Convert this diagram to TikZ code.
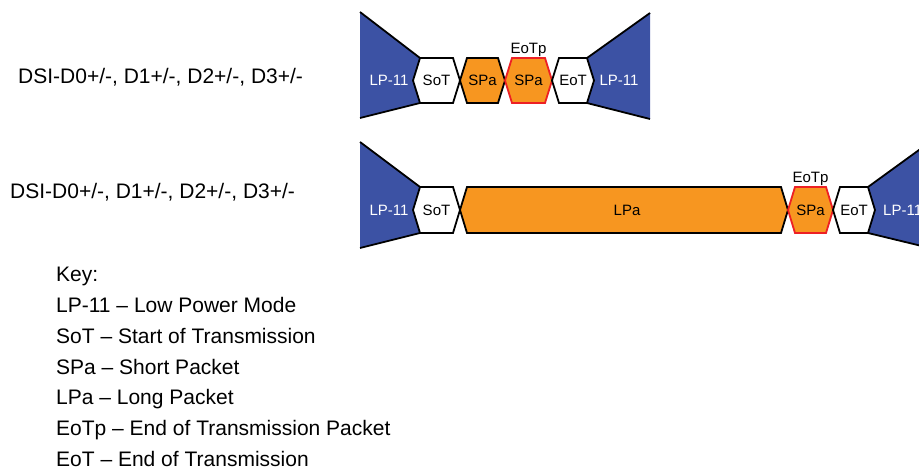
\documentclass[tikz,border=0pt]{standalone}
\usepackage{fontspec}
\setmainfont{Liberation Sans}
\usepackage{tikz}
\usepackage{xcolor}
\usetikzlibrary{positioning}

\begin{document}
\begin{tikzpicture}[x=1pt, y=-1pt,
		cell/.style={line width=1.8pt, draw=BLACK},
		edge/.style={line width=1.8pt, draw=BLACK},
		celltext/.style={font=\fontsize{15}{18}\selectfont, inner sep=0pt},
		keytext/.style={font=\fontsize{21}{25}\selectfont, anchor=base west, inner sep=0pt}]
				\definecolor{WHITE}{RGB}{255, 255, 255}
				\definecolor{BLACK}{RGB}{0, 0, 0}
				\definecolor{BLUE}{RGB}{60, 82, 164}
				\definecolor{ORANGE}{RGB}{247, 150, 32}
				\definecolor{RED}{RGB}{237, 32, 36}
				\useasboundingbox (0,0) rectangle (919,473);
				\clip (0,0) rectangle (919,473);

				% top lane
				\fill[BLUE] (360,12) -- (420,58) -- (413,80.5) -- (420,103) -- (360,118) -- cycle;
				\draw[edge] (360,12) -- (420,58);
				\draw[edge] (360,118) -- (420,103);
				\fill[BLUE] (650,13) -- (587,58) -- (594,80.5) -- (587,103) -- (650,119) -- cycle;
				\draw[edge] (650,13) -- (587,58);
				\draw[edge] (650,119) -- (587,103);
				\draw[cell, fill=WHITE] (413,80.5) -- (420,58) -- (453,58) -- (460,80.5) -- (453,103) -- (420,103) -- cycle;
				\draw[cell, fill=ORANGE] (460,80.5) -- (467,58) -- (498,58) -- (505,80.5) -- (498,103) -- (467,103) -- cycle;
				\draw[cell, draw=RED, fill=ORANGE] (505,80.5) -- (512,58) -- (545,58) -- (552,80.5) -- (545,103) -- (512,103) -- cycle;
				\draw[cell, fill=WHITE] (552,80.5) -- (559,58) -- (587,58) -- (594,80.5) -- (587,103) -- (559,103) -- cycle;

				\node[celltext, text=WHITE] (lpTopL) at (389,80.5) {LP-11};
				\node[celltext] (sotTop) at (436.5,80.5) {SoT};
				\node[celltext] (spaTop) at (482.5,80.5) {SPa};
				\node[celltext] (spaTopEnd) at (528.5,80.5) {SPa};
				\node[celltext, anchor=south] (eotpTop) at (528.5,57) {EoTp};
				\node[celltext] (eotTop) at (573,80.5) {EoT};
				\node[celltext, text=WHITE] (lpTopR) at (619,80.5) {LP-11};

				% bottom lane
				\fill[BLUE] (360,142) -- (420,187) -- (413,210) -- (420,233) -- (360,248) -- cycle;
				\draw[edge] (360,142) -- (420,187);
				\draw[edge] (360,248) -- (420,233);
				\fill[BLUE] (930,142) -- (868,187) -- (875,210) -- (868,233) -- (930,248) -- cycle;
				\draw[edge] (930,142) -- (868,187);
				\draw[edge] (930,248) -- (868,233);
				\draw[cell, fill=WHITE] (413,210) -- (420,187) -- (453,187) -- (460,210) -- (453,233) -- (420,233) -- cycle;
				\draw[cell, fill=ORANGE] (460,210) -- (467,187) -- (781,187) -- (788,210) -- (781,233) -- (467,233) -- cycle;
				\draw[cell, draw=RED, fill=ORANGE] (788,210) -- (795,187) -- (826,187) -- (833,210) -- (826,233) -- (795,233) -- cycle;
				\draw[cell, fill=WHITE] (833,210) -- (840,187) -- (868,187) -- (875,210) -- (868,233) -- (840,233) -- cycle;

				\node[celltext, text=WHITE] (lpBotL) at (389,210) {LP-11};
				\node[celltext] (sotBot) at (436.5,210) {SoT};
				\node[celltext] (lpaBot) at (627,210) {LPa};
				\node[celltext] (spaBot) at (810.5,210) {SPa};
				\node[celltext, anchor=south] (eotpBot) at (810.5,186) {EoTp};
				\node[celltext] (eotBot) at (854,210) {EoT};
				\node[celltext, text=WHITE, anchor=west] (lpBotR) at (883,210) {LP-11};

				% lane names
				\node[keytext] (laneTop) at (18,84) {DSI-D0+/-, D1+/-, D2+/-, D3+/-};
				\node[keytext] (laneBot) at (10,199) {DSI-D0+/-, D1+/-, D2+/-, D3+/-};

				% key
				\node[keytext] (keyHead) at (56,282) {Key:};
				\node[keytext] (keyLp) at (56,312.7) {LP-11 – Low Power Mode};
				\node[keytext] (keySot) at (56,343.3) {SoT – Start of Transmission};
				\node[keytext] (keySpa) at (56,374) {SPa – Short Packet};
				\node[keytext] (keyLpa) at (56,404.7) {LPa – Long Packet};
				\node[keytext] (keyEotp) at (56,435.3) {EoTp – End of Transmission Packet};
				\node[keytext] (keyEot) at (56,466) {EoT – End of Transmission};
			\end{tikzpicture}
\end{document}
